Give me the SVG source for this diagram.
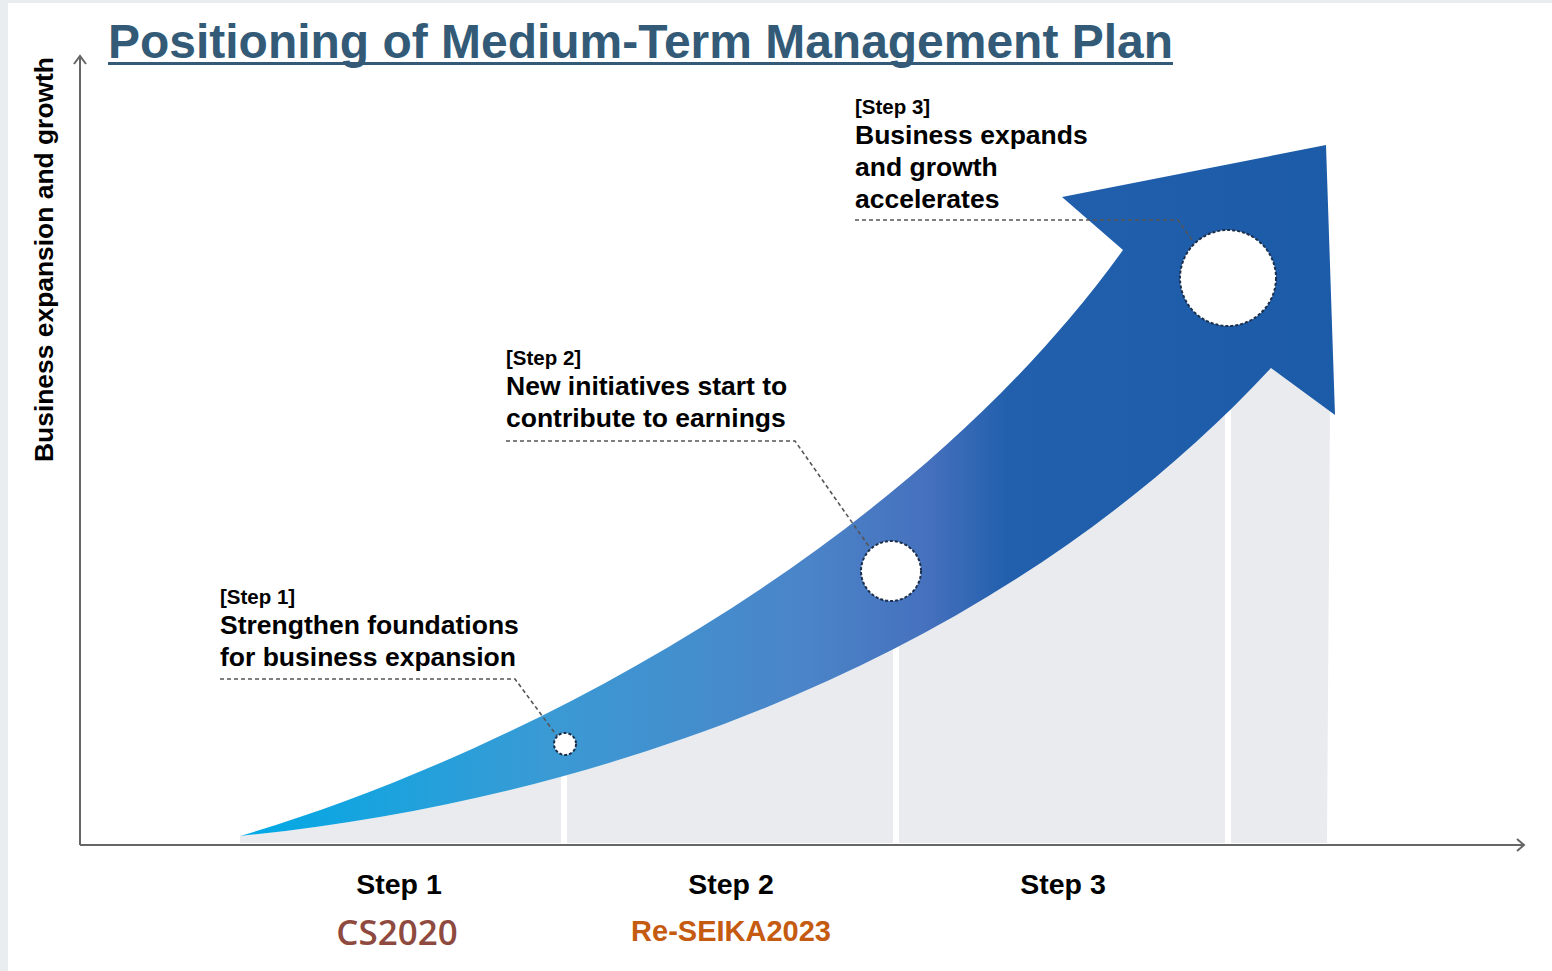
<svg xmlns="http://www.w3.org/2000/svg" width="1552" height="971" viewBox="0 0 1552 971">
<style>
.t{font-family:"Liberation Sans",Arial,sans-serif;font-weight:bold;fill:#000}
.s{font-size:20.5px}
.b{font-size:26.5px}
.st{font-size:28.5px;text-anchor:middle}
.lead{fill:none;stroke:#555;stroke-width:1.6;stroke-dasharray:4 3}
.dot{fill:#fff;stroke:#1d2f4a;stroke-width:2;stroke-dasharray:3 2}
.ax{fill:none;stroke:#666;stroke-width:2}
</style>
<defs>
<linearGradient id="g" x1="240" y1="0" x2="1335" y2="0" gradientUnits="userSpaceOnUse">
<stop offset="0" stop-color="#00aae6"/>
<stop offset="0.28" stop-color="#3a9ad4"/>
<stop offset="0.52" stop-color="#4b84c8"/>
<stop offset="0.63" stop-color="#4570bd"/>
<stop offset="0.7" stop-color="#2260ad"/>
<stop offset="1" stop-color="#1c5ba8"/>
</linearGradient>
</defs>
<rect x="0" y="0" width="1552" height="971" fill="#e9edf0"/>
<rect x="8" y="3" width="1544" height="968" fill="#fff"/>
<g id="title">
<text class="t" x="108" y="58" textLength="1065" lengthAdjust="spacingAndGlyphs" style="font-size:47.5px;fill:#335b77">Positioning of Medium-Term Management Plan</text>
<rect x="108" y="62" width="1065" height="3" fill="#335b77"/>
</g>
<g id="ground">
<path d="M240,843 L240,836 C600,800 1000,660 1271,368 L1330,408 L1327,843 Z" fill="#e9ebee"/>
<rect x="561" y="760" width="6" height="84" fill="#fff"/>
<rect x="893" y="630" width="6" height="214" fill="#fff"/>
<rect x="1225" y="380" width="6" height="464" fill="#fff"/>
</g>
<g id="arrow">
<path d="M240,836 C500,760 900,560 1123,250 L1062,197 L1326,145 L1335,415 L1271,368 C1000,660 600,800 240,836 Z" fill="url(#g)"/>
</g>
<g id="axes">
<path class="ax" d="M80,845 L80,56 M74,64 L80,56 L86,64"/>
<path class="ax" d="M80,845 L1524,845 M1517,839 L1524,845 L1517,851"/>
<text class="t" transform="translate(53,462) rotate(-90)" textLength="405" lengthAdjust="spacingAndGlyphs" style="font-size:25px">Business expansion and growth</text>
</g>
<g id="connectors">
<path class="lead" d="M220,679 L515,679 L557,736"/>
<path class="lead" d="M506,441 L795,441 L870,548"/>
<path class="lead" d="M855,220 L1178,220 L1192,240"/>
</g>
<g id="step1">
<circle class="dot" cx="565" cy="744" r="11"/>
<text class="t s" x="220" y="604">[Step 1]</text>
<text class="t b" x="220" y="634">Strengthen foundations</text>
<text class="t b" x="220" y="666">for business expansion</text>
</g>
<g id="step2">
<circle class="dot" cx="891" cy="571" r="30"/>
<text class="t s" x="506" y="365">[Step 2]</text>
<text class="t b" x="506" y="395">New initiatives start to</text>
<text class="t b" x="506" y="427">contribute to earnings</text>
</g>
<g id="step3">
<circle class="dot" cx="1228" cy="278" r="48"/>
<text class="t s" x="855" y="114">[Step 3]</text>
<text class="t b" x="855" y="144">Business expands</text>
<text class="t b" x="855" y="176">and growth</text>
<text class="t b" x="855" y="208">accelerates</text>
</g>
<g id="xlabels">
<text class="t st" x="399" y="894">Step 1</text>
<text class="t st" x="731" y="894">Step 2</text>
<text class="t st" x="1063" y="894">Step 3</text>
<text x="397" y="945" style="font-family:'Open Sans','Liberation Sans',sans-serif;font-weight:600;font-size:35px;fill:#8f4a40;text-anchor:middle">CS2020</text>
<text class="t" x="731" y="941" style="font-size:29px;fill:#c55a11;text-anchor:middle">Re-SEIKA2023</text>
</g>
</svg>
